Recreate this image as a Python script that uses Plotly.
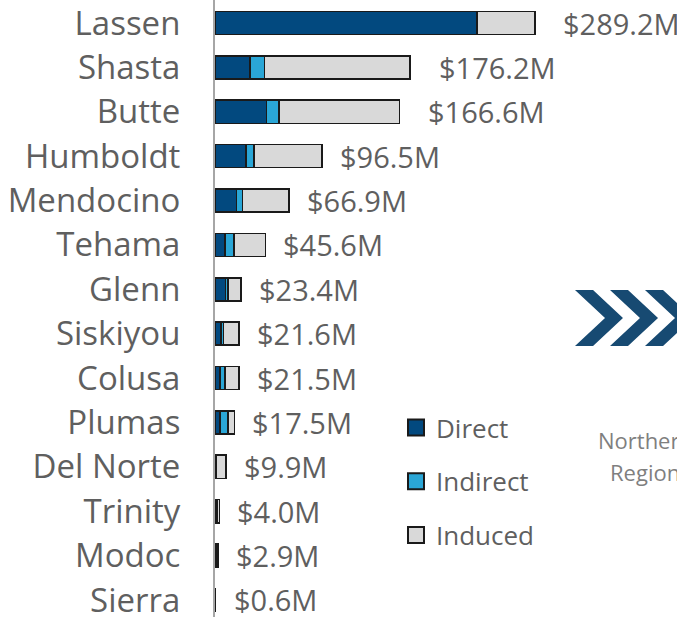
import plotly.graph_objects as go

counties = ["Lassen", "Shasta", "Butte", "Humboldt", "Mendocino", "Tehama", "Glenn",
            "Siskiyou", "Colusa", "Plumas", "Del Norte", "Trinity", "Modoc", "Sierra"]
direct = [236.2, 31.6, 46.7, 28.0, 19.6, 9.3, 9.5, 5.4, 4.5, 4.5, 0.5, 1.5, 1.0, 0.3]
indirect = [0.5, 13.0, 11.4, 7.5, 5.1, 7.9, 2.0, 2.1, 4.5, 7.5, 0.4, 0.5, 0.4, 0.1]
totals = [289.2, 176.2, 166.6, 96.5, 66.9, 45.6, 23.4, 21.6, 21.5, 17.5, 9.9, 4.0, 2.9, 0.6]
induced = [round(t - d - i, 1) for t, d, i in zip(totals, direct, indirect)]
total_labels = ["$289.2M", "$176.2M", "$166.6M", "$96.5M", "$66.9M", "$45.6M", "$23.4M",
                "$21.6M", "$21.5M", "$17.5M", "$9.9M", "$4.0M", "$2.9M", "$0.6M"]
series_names = ["Direct", "Indirect", "Induced"]

# styles
colors = ["#02497F", "#2AA6D6", "#D9D9D9"]
label_shift = [26, 27, 27, 16, 16, 16, 16, 16, 16, 16, 16, 16, 16, 16]
W, H = 677, 617
LM = 215         # left margin (px)
PXPERM = 1.1065  # px per $M
ROW = 44.38      # px per category row
FONT = "Open Sans"
GRAY = "#5f5f5f"

fig = go.Figure()
for name, vals, col in zip(series_names, [direct, indirect, induced], colors):
    fig.add_trace(go.Bar(
        y=counties, x=vals, orientation="h", name=name, showlegend=False,
        marker=dict(color=col, line=dict(color="#1a1a1a", width=1.6)),
    ))
    # legend proxy
    fig.add_trace(go.Scatter(
        x=[None], y=[None], mode="markers", name=name, legendgroup=name,
        marker=dict(symbol="square", size=16, color=col, line=dict(color="#1a1a1a", width=2)),
    ))

for c, t, lab, sh in zip(counties, totals, total_labels, label_shift):
    fig.add_annotation(x=t, y=c, text=lab, showarrow=False, xanchor="left", yanchor="middle",
                       xshift=sh, font=dict(family=FONT, size=29, color=GRAY))

def fx(page_x):
    return (page_x - LM) / (W - LM)

def fy(page_y):
    return 1 - page_y / H

# chevrons (decorative)
for k in range(3):
    dx = 35 * k
    pts = [(575 + dx, 290), (593 + dx, 290), (623 + dx, 318), (593 + dx, 346),
           (575 + dx, 346), (605 + dx, 318)]
    path = "M " + " L ".join(f"{fx(a):.4f},{fy(b):.4f}" for a, b in pts) + " Z"
    fig.add_shape(type="path", path=path, xref="paper", yref="paper",
                  fillcolor="#174A72", line=dict(width=0))

fig.add_annotation(x=fx(645), y=fy(440), xref="paper", yref="paper", text="Northern",
                   xanchor="center", yanchor="middle",
                   showarrow=False, font=dict(family=FONT, size=22, color="#7f7f7f"))
fig.add_annotation(x=fx(645), y=fy(472), xref="paper", yref="paper", text="Region",
                   xanchor="center", yanchor="middle",
                   showarrow=False, font=dict(family=FONT, size=22, color="#7f7f7f"))

top = -23 / ROW
bottom = top + H / ROW

fig.update_layout(
    width=W, height=H,
    margin=dict(l=LM, r=0, t=0, b=0, autoexpand=False),
    paper_bgcolor="white", plot_bgcolor="white",
    barmode="stack", bargap=0.48,
    showlegend=True,
    legend=dict(x=fx(396), y=fy(404), xanchor="left", yanchor="top",
                font=dict(family=FONT, size=26, color=GRAY),
                tracegroupgap=17, bgcolor="rgba(0,0,0,0)", itemwidth=30),
    xaxis=dict(range=[0, (W - LM) / PXPERM], visible=False, automargin=False),
    yaxis=dict(categoryorder="array", categoryarray=counties, automargin=False,
               range=[bottom, top], showline=True, linecolor="#a6a6a6", linewidth=2,
               ticks="", ticklabelstandoff=26, showgrid=False, zeroline=False,
               tickfont=dict(family=FONT, size=33, color=GRAY)),
)

fig.write_html(
    "out.html",
    config={"displayModeBar": False},
    post_script="document.body.style.margin='0';document.body.style.overflow='hidden';",
)
